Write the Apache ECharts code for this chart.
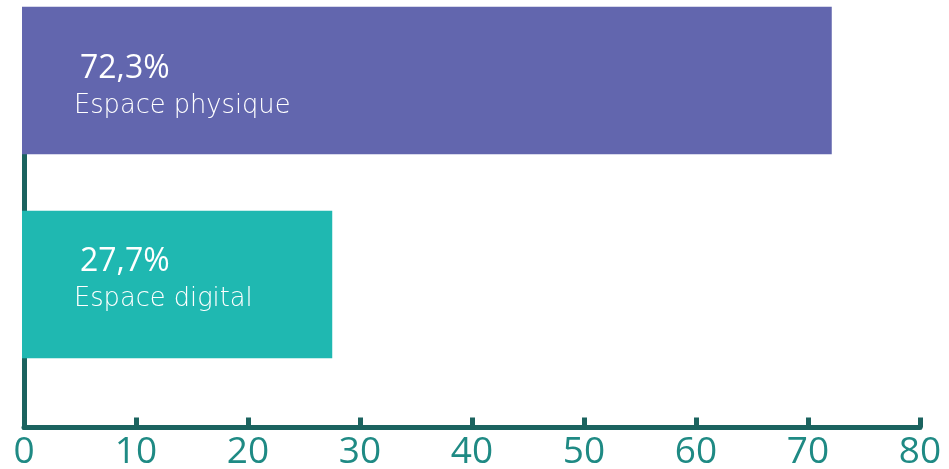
<!DOCTYPE html>
<html>
<head>
<meta charset="utf-8">
<script src="https://cdn.jsdelivr.net/npm/echarts@6/dist/echarts.min.js"></script>
<style>
html,body{margin:0;padding:0;background:#fff;}
#c{width:949px;height:469px;}
</style>
</head>
<body>
<div id="c"></div>
<script>
const categories = ['Espace physique', 'Espace digital'];
const values = [72.3, 27.7];
const valueLabels = ['72,3%', '27,7%'];
const barColors = ['#6266ae', '#1fb8b1'];
const axisMin = 0, axisMax = 80, axisStep = 10;

const chart = echarts.init(document.getElementById('c'), null, {renderer: 'canvas'});
const FONT = '"Open Sans", "Noto Sans", sans-serif';
const NAMEFONT = '"DejaVu Sans", sans-serif';
const labelOffsets = [[52, 42], [52, 31]];

chart.setOption({
  animation: false,
  grid: [
    {left: 22, right: 31, top: -21.5, height: 408, outerBoundsMode: 'none', containLabel: false},
    {left: 24, right: 29, top: 10, bottom: 41.5, outerBoundsMode: 'none', containLabel: false}
  ],
  xAxis: [
    {gridIndex: 0, type: 'value', min: axisMin, max: axisMax, show: false},
    {gridIndex: 1, type: 'value', min: axisMin, max: axisMax, interval: axisStep,
     axisLine: {show: true, lineStyle: {color: '#1b635f', width: 5}},
     axisTick: {show: true, inside: true, length: 10, lineStyle: {color: '#1b635f', width: 5}},
     axisLabel: {color: '#1f8a84', fontSize: 37, margin: 6, fontFamily: FONT},
     splitLine: {show: false}}
  ],
  yAxis: [
    {gridIndex: 0, type: 'category', data: categories, inverse: true, show: false},
    {gridIndex: 1, type: 'value', min: 0, max: 1,
     axisLine: {show: true, lineStyle: {color: '#1b635f', width: 5}},
     axisTick: {show: false}, axisLabel: {show: false}, splitLine: {show: false}}
  ],
  series: [{
    type: 'bar',
    xAxisIndex: 0, yAxisIndex: 0,
    barWidth: 147.5,
    data: values.map((v, i) => ({
      value: v,
      itemStyle: {color: barColors[i]},
      label: {position: labelOffsets[i]}
    })),
    label: {
      show: true,
      align: 'left',
      verticalAlign: 'top',
      formatter: p => '{v|' + valueLabels[p.dataIndex] + '}\n{n|' + categories[p.dataIndex] + '}',
      rich: {
        v: {color: '#fff', fontSize: 32, fontWeight: 500, fontFamily: FONT, lineHeight: 40, padding: [0, 0, 0, 6]},
        n: {color: '#fff', fontSize: 25.7, fontWeight: 200, fontFamily: NAMEFONT, lineHeight: 36}
      }
    }
  }]
});
</script>
</body>
</html>
